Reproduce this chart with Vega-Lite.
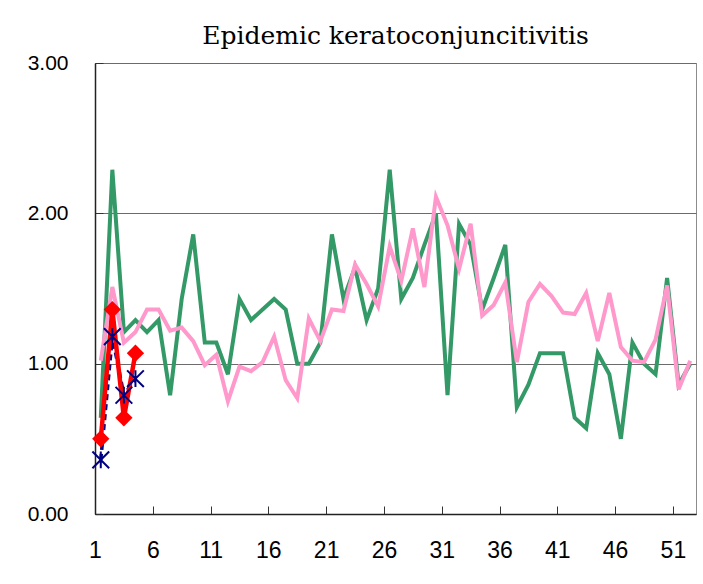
{
  "$schema": "https://vega.github.io/schema/vega-lite/v6.json",
  "width": 601,
  "height": 451,
  "autosize": {"type": "none"},
  "padding": {"left": 95, "top": 63, "right": 7, "bottom": 70},
  "background": "white",
  "title": {
    "text": "Epidemic keratoconjuncitivitis",
    "font": "DejaVu Serif",
    "fontSize": 25,
    "fontWeight": "normal",
    "color": "black",
    "anchor": "middle",
    "baseline": "alphabetic",
    "offset": 18,
    "dy": 35
  },
  "config": {
    "view": {"stroke": "#8c8c8c", "strokeWidth": 1},
    "axis": {"title": null}
  },
  "datasets": {
    "rows": [
      {"w": 1, "s": "avg", "v": 0.64}, {"w": 2, "s": "avg", "v": 2.29}, {"w": 3, "s": "avg", "v": 1.21}, {"w": 4, "s": "avg", "v": 1.29},
      {"w": 5, "s": "avg", "v": 1.21}, {"w": 6, "s": "avg", "v": 1.29}, {"w": 7, "s": "avg", "v": 0.79}, {"w": 8, "s": "avg", "v": 1.43},
      {"w": 9, "s": "avg", "v": 1.86}, {"w": 10, "s": "avg", "v": 1.14}, {"w": 11, "s": "avg", "v": 1.14}, {"w": 12, "s": "avg", "v": 0.93},
      {"w": 13, "s": "avg", "v": 1.43}, {"w": 14, "s": "avg", "v": 1.29}, {"w": 15, "s": "avg", "v": 1.36}, {"w": 16, "s": "avg", "v": 1.43},
      {"w": 17, "s": "avg", "v": 1.36}, {"w": 18, "s": "avg", "v": 1.0}, {"w": 19, "s": "avg", "v": 1.0}, {"w": 20, "s": "avg", "v": 1.14},
      {"w": 21, "s": "avg", "v": 1.86}, {"w": 22, "s": "avg", "v": 1.43}, {"w": 23, "s": "avg", "v": 1.64}, {"w": 24, "s": "avg", "v": 1.29},
      {"w": 25, "s": "avg", "v": 1.5}, {"w": 26, "s": "avg", "v": 2.29}, {"w": 27, "s": "avg", "v": 1.43}, {"w": 28, "s": "avg", "v": 1.57},
      {"w": 29, "s": "avg", "v": 1.79}, {"w": 30, "s": "avg", "v": 2.0}, {"w": 31, "s": "avg", "v": 0.79}, {"w": 32, "s": "avg", "v": 1.93},
      {"w": 33, "s": "avg", "v": 1.79}, {"w": 34, "s": "avg", "v": 1.36}, {"w": 35, "s": "avg", "v": 1.57}, {"w": 36, "s": "avg", "v": 1.79},
      {"w": 37, "s": "avg", "v": 0.71}, {"w": 38, "s": "avg", "v": 0.86}, {"w": 39, "s": "avg", "v": 1.07}, {"w": 40, "s": "avg", "v": 1.07},
      {"w": 41, "s": "avg", "v": 1.07}, {"w": 42, "s": "avg", "v": 0.64}, {"w": 43, "s": "avg", "v": 0.57}, {"w": 44, "s": "avg", "v": 1.07},
      {"w": 45, "s": "avg", "v": 0.93}, {"w": 46, "s": "avg", "v": 0.5}, {"w": 47, "s": "avg", "v": 1.14}, {"w": 48, "s": "avg", "v": 1.0},
      {"w": 49, "s": "avg", "v": 0.93}, {"w": 50, "s": "avg", "v": 1.57}, {"w": 51, "s": "avg", "v": 0.86}, {"w": 52, "s": "avg", "v": 1.0},
      {"w": 1, "s": "prev", "v": 1.02}, {"w": 2, "s": "prev", "v": 1.51}, {"w": 3, "s": "prev", "v": 1.14}, {"w": 4, "s": "prev", "v": 1.21},
      {"w": 5, "s": "prev", "v": 1.36}, {"w": 6, "s": "prev", "v": 1.36}, {"w": 7, "s": "prev", "v": 1.22}, {"w": 8, "s": "prev", "v": 1.24},
      {"w": 9, "s": "prev", "v": 1.15}, {"w": 10, "s": "prev", "v": 0.99}, {"w": 11, "s": "prev", "v": 1.06}, {"w": 12, "s": "prev", "v": 0.75},
      {"w": 13, "s": "prev", "v": 0.98}, {"w": 14, "s": "prev", "v": 0.95}, {"w": 15, "s": "prev", "v": 1.01}, {"w": 16, "s": "prev", "v": 1.18},
      {"w": 17, "s": "prev", "v": 0.89}, {"w": 18, "s": "prev", "v": 0.77}, {"w": 19, "s": "prev", "v": 1.3}, {"w": 20, "s": "prev", "v": 1.15},
      {"w": 21, "s": "prev", "v": 1.36}, {"w": 22, "s": "prev", "v": 1.35}, {"w": 23, "s": "prev", "v": 1.66}, {"w": 24, "s": "prev", "v": 1.53},
      {"w": 25, "s": "prev", "v": 1.38}, {"w": 26, "s": "prev", "v": 1.78}, {"w": 27, "s": "prev", "v": 1.55}, {"w": 28, "s": "prev", "v": 1.9},
      {"w": 29, "s": "prev", "v": 1.51}, {"w": 30, "s": "prev", "v": 2.11}, {"w": 31, "s": "prev", "v": 1.92}, {"w": 32, "s": "prev", "v": 1.63},
      {"w": 33, "s": "prev", "v": 1.93}, {"w": 34, "s": "prev", "v": 1.32}, {"w": 35, "s": "prev", "v": 1.39}, {"w": 36, "s": "prev", "v": 1.54},
      {"w": 37, "s": "prev", "v": 1.01}, {"w": 38, "s": "prev", "v": 1.41}, {"w": 39, "s": "prev", "v": 1.53}, {"w": 40, "s": "prev", "v": 1.45},
      {"w": 41, "s": "prev", "v": 1.34}, {"w": 42, "s": "prev", "v": 1.33}, {"w": 43, "s": "prev", "v": 1.47}, {"w": 44, "s": "prev", "v": 1.15},
      {"w": 45, "s": "prev", "v": 1.47}, {"w": 46, "s": "prev", "v": 1.11}, {"w": 47, "s": "prev", "v": 1.02}, {"w": 48, "s": "prev", "v": 1.01},
      {"w": 49, "s": "prev", "v": 1.16}, {"w": 50, "s": "prev", "v": 1.52}, {"w": 51, "s": "prev", "v": 0.83}, {"w": 52, "s": "prev", "v": 1.02},
      {"w": 1, "s": "cur", "v": 0.5}, {"w": 2, "s": "cur", "v": 1.36}, {"w": 3, "s": "cur", "v": 0.64}, {"w": 4, "s": "cur", "v": 1.07},
      {"w": 1, "s": "last", "v": 0.36}, {"w": 2, "s": "last", "v": 1.18}, {"w": 3, "s": "last", "v": 0.79}, {"w": 4, "s": "last", "v": 0.9}
    ]
  },
  "data": {"name": "rows"},
  "encoding": {
    "x": {
      "field": "w",
      "type": "quantitative",
      "scale": {"domain": [0.5, 52.5], "nice": false, "zero": false},
      "axis": {
        "values": [0.5, 5.5, 10.5, 15.5, 20.5, 25.5, 30.5, 35.5, 40.5, 45.5, 50.5],
        "labelExpr": "format(datum.value + 0.5, 'd')",
        "grid": false,
        "labelFlush": false,
        "labelOverlap": false,
        "labelFont": "Liberation Sans",
        "labelFontSize": 23,
        "labelColor": "black",
        "labelPadding": 33,
        "domainColor": "#222222",
        "domainWidth": 1.5,
        "ticks": true,
        "tickSize": -8,
        "tickColor": "#333333"
      }
    },
    "y": {
      "field": "v",
      "type": "quantitative",
      "scale": {"domain": [0, 3], "nice": false},
      "axis": {
        "values": [0, 1, 2, 3],
        "format": ".2f",
        "grid": true,
        "gridColor": "#6b6b6b",
        "gridWidth": 1.2,
        "labelFont": "Liberation Sans",
        "labelFontSize": 21,
        "labelColor": "black",
        "labelPadding": 35,
        "domainColor": "#222222",
        "domainWidth": 1.5,
        "ticks": true,
        "tickSize": -8,
        "tickColor": "#333333"
      }
    }
  },
  "layer": [
    {
      "transform": [{"filter": "datum.s === 'avg'"}],
      "mark": {"type": "line", "color": "#339966", "strokeWidth": 4}
    },
    {
      "transform": [{"filter": "datum.s === 'prev'"}],
      "mark": {"type": "line", "color": "#FF99CC", "strokeWidth": 4}
    },
    {
      "transform": [{"filter": "datum.s === 'last'"}],
      "mark": {"type": "line", "color": "#000080", "strokeWidth": 3.5, "strokeDash": [6, 4]}
    },
    {
      "transform": [{"filter": "datum.s === 'cur'"}],
      "mark": {"type": "line", "color": "#FF0000", "strokeWidth": 4.5}
    },
    {
      "transform": [{"filter": "datum.s === 'cur'"}],
      "mark": {"type": "point", "shape": "diamond", "filled": true, "color": "#FF0000", "size": 300, "opacity": 1}
    },
    {
      "transform": [{"filter": "datum.s === 'last'"}],
      "mark": {"type": "point", "shape": "M-1,-1L1,1M-1,1L1,-1M0,-1L0,1", "filled": false, "color": "#000080", "strokeWidth": 2, "size": 280, "opacity": 1}
    }
  ]
}
